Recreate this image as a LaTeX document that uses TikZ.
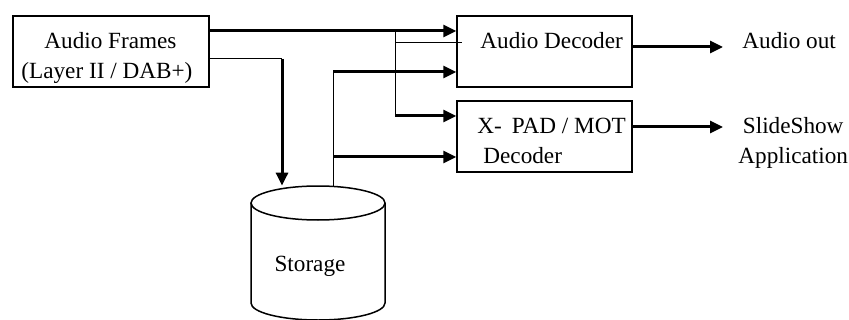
\documentclass[tikz,border=0pt]{standalone}
\usepackage{fontspec}
\setmainfont{Liberation Serif}
\usetikzlibrary{positioning, arrows.meta}

\begin{document}
\begin{tikzpicture}[
        x=0.5pt, y=-0.5pt,
        box/.style={rectangle, draw, line width=0.75pt, minimum width=87.5pt, minimum height=35.5pt, inner sep=0pt},
        lbl/.style={font=\fontsize{11.6}{15}\selectfont, inner sep=0pt, align=left},
        arr/.style={-{Triangle[length=6.5pt, width=6pt]}, line width=1.5pt},
        thinline/.style={line width=0.5pt}
    ]
        \useasboundingbox (0,0) rectangle (849,320);

        % blocks
        \node[box, minimum width=98pt] (frames) at (111,51.5) {};
        \node[box] (adec) at (544.5,51.5) {};
        \node[box] (xpad) at (544.5,136.5) {};
        \node[minimum width=67pt, minimum height=67pt, inner sep=0pt] (storage) at (318,253) {};

        % storage cylinder
        \draw[line width=0.75pt] (318,203) ellipse [x radius=33.5pt, y radius=8.5pt];
        \draw[line width=0.75pt] (251,203) -- (251,303)
            arc [start angle=180, end angle=360, x radius=33.5pt, y radius=8.5pt] -- (385,203);

        % texts (base = last line)
        \node[lbl, anchor=base west] (tframes) at (21,79) {\hspace{11.5pt}Audio Frames\\(Layer II / DAB+)};
        \node[lbl, anchor=base west] (tadec) at (480,49) {Audio Decoder};
        \node[lbl, anchor=base west] (txpad) at (477,163) {X-\hspace{5pt}PAD / MOT\\\hspace{3pt}Decoder};
        \node[lbl] (tstorage) at (310,266) {Storage};
        \node[lbl, anchor=base west] (aout) at (742,49) {Audio out};
        \node[lbl, anchor=base west, align=center] (slide) at (738,163) {SlideShow\\Application};

        % audio frames to decoders
        \coordinate (j1) at (395,31);
        \coordinate (j2) at (395,116);
        \coordinate (j3) at (395,43);
        \coordinate (t1) at (462,43);
        \draw[arr] ([yshift=10.25pt]frames.east) -- ([yshift=10.25pt]adec.west);
        \draw[thinline] (j1) -- (j2);
        \draw[thinline] (j3) -- (t1);
        \draw[arr] (j2) -- (xpad.west |- j2);

        % audio frames to storage
        \coordinate (k1) at (282,59);
        \draw[thinline] (frames.east |- k1) -- (k1);
        \draw[arr] (k1) -- (k1 |- storage.north);

        % storage to decoders
        \coordinate (s1) at (333,72);
        \coordinate (s2) at (333,157);
        \draw[thinline] (storage.north -| s1) -- (s1);
        \draw[arr] (s1) -- (adec.west |- s1);
        \draw[arr] (s2) -- (xpad.west |- s2);

        % outputs
        \coordinate (o1) at (723,47);
        \coordinate (o2) at (723,127);
        \draw[arr] (adec.east |- o1) -- (o1);
        \draw[arr] (xpad.east |- o2) -- (o2);
    \end{tikzpicture}
\end{document}
